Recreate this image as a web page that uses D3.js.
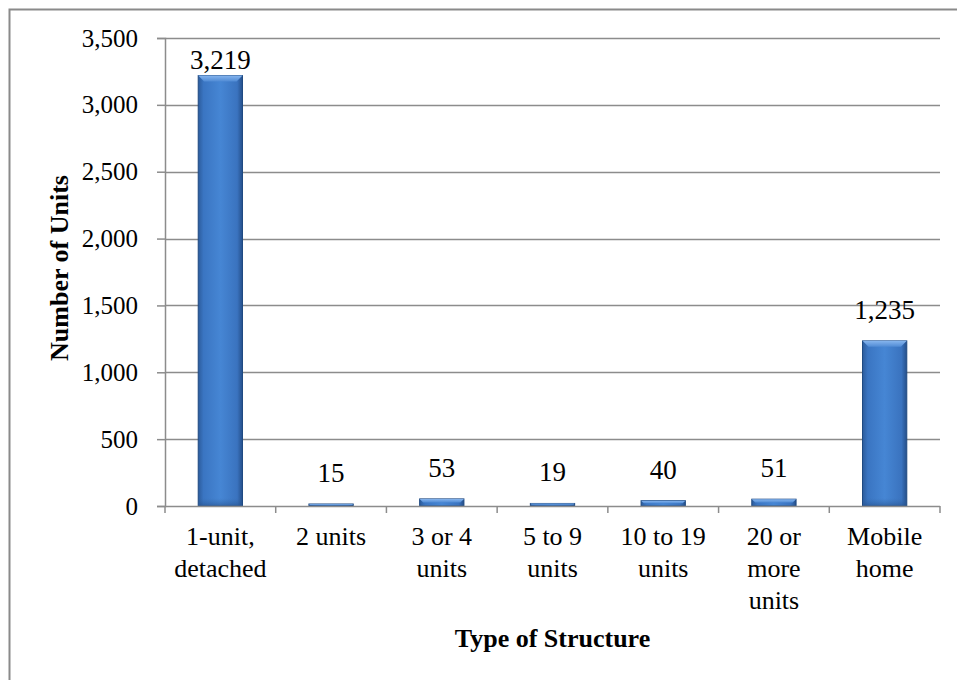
<!DOCTYPE html>
<html>
<head>
<meta charset="utf-8">
<script src="https://cdn.jsdelivr.net/npm/d3@7/dist/d3.min.js"></script>
<style>
  html, body { margin: 0; padding: 0; background: #fff; }
  svg { display: block; }
  text { font-family: "Liberation Serif", "Times New Roman", serif; fill: #000; }
</style>
</head>
<body>
<svg id="chart" width="957" height="680"></svg>
<script>
const categories = [["1-unit,", "detached"], ["2 units"], ["3 or 4", "units"], ["5 to 9", "units"], ["10 to 19", "units"], ["20 or", "more", "units"], ["Mobile", "home"]];
const values = [3219, 15, 53, 19, 40, 51, 1235];
const yTicks = [0, 500, 1000, 1500, 2000, 2500, 3000, 3500];
const yTitle = "Number of Units";
const xTitle = "Type of Structure";

const svg = d3.select("#chart");
const pLeft = 165, pRight = 940, pTop = 38, pBottom = 506;

// outer frame (extends past the right and bottom edge)
svg.append("rect").attr("x", 9.5).attr("y", 9.5).attr("width", 1000).attr("height", 1000)
  .attr("fill", "none").attr("stroke", "#8a8a8a").attr("stroke-width", 2);

const idx = d3.range(values.length);
const x = d3.scaleBand().domain(idx).range([pLeft, pRight]).paddingInner(0.6).paddingOuter(0.3);
const xc = d3.scaleBand().domain(idx).range([pLeft, pRight]);
const y = d3.scaleLinear().domain([0, 3500]).range([pBottom, pTop]);

const fmt = d3.format(",");

// defs: gradients
const defs = svg.append("defs");
const g1 = defs.append("linearGradient").attr("id", "barGrad").attr("x1", 0).attr("x2", 1).attr("y1", 0).attr("y2", 0);
g1.append("stop").attr("offset", "0%").attr("stop-color", "#2c5c9c");
g1.append("stop").attr("offset", "12%").attr("stop-color", "#3a75c2");
g1.append("stop").attr("offset", "50%").attr("stop-color", "#4686d4");
g1.append("stop").attr("offset", "88%").attr("stop-color", "#3a73bf");
g1.append("stop").attr("offset", "100%").attr("stop-color", "#254f8a");
const g2 = defs.append("linearGradient").attr("id", "topGrad").attr("x1", 0).attr("x2", 0).attr("y1", 0).attr("y2", 1);
g2.append("stop").attr("offset", "0%").attr("stop-color", "#86b5ee");
g2.append("stop").attr("offset", "100%").attr("stop-color", "#4f8ad4");
const g3 = defs.append("linearGradient").attr("id", "botGrad").attr("x1", 0).attr("x2", 0).attr("y1", 0).attr("y2", 1);
g3.append("stop").attr("offset", "0%").attr("stop-color", "#3468a8").attr("stop-opacity", 0);
g3.append("stop").attr("offset", "100%").attr("stop-color", "#24508c").attr("stop-opacity", 0.6);

// gridlines
svg.append("g").selectAll("line").data(yTicks.filter(d => d > 0)).join("line")
  .attr("x1", pLeft).attr("x2", pRight)
  .attr("y1", d => Math.round(y(d)) + 0.5).attr("y2", d => Math.round(y(d)) + 0.5)
  .attr("stroke", "#8c8c8c").attr("stroke-width", 1.5);

// y axis
const yAxis = d3.axisLeft(y).tickValues(yTicks).tickSize(8).tickPadding(19).tickFormat(fmt);
const gy = svg.append("g").attr("transform", `translate(${pLeft},0)`).call(yAxis);
gy.select(".domain").attr("stroke", "#8c8c8c").attr("stroke-width", 1.5);
gy.selectAll(".tick line").attr("stroke", "#8c8c8c").attr("stroke-width", 1.5);
gy.selectAll(".tick text").style("font-family", "Liberation Serif").style("font-size", "25px").attr("fill", "#000");

// bars
const bars = svg.append("g");
idx.forEach(i => {
  const bx = x(i), bw = x.bandwidth(), by = y(values[i]), bh = pBottom - y(values[i]);
  const bev = Math.min(6, bh / 2);
  bars.append("rect").attr("x", bx).attr("y", by).attr("width", bw).attr("height", bh)
    .attr("fill", "url(#barGrad)").attr("stroke", "#1f4a82").attr("stroke-width", 1);
  bars.append("path")
    .attr("d", `M${bx},${by} L${bx + bw},${by} L${bx + bw - bev},${by + bev} L${bx + bev},${by + bev} Z`)
    .attr("fill", "url(#topGrad)");
  if (bh > 12) {
    bars.append("rect").attr("x", bx + 1).attr("y", pBottom - 8).attr("width", bw - 2).attr("height", 8)
      .attr("fill", "url(#botGrad)");
  }
});

// x axis
const gx = svg.append("g");
gx.append("line").attr("x1", pLeft).attr("x2", pRight).attr("y1", pBottom + 0.5).attr("y2", pBottom + 0.5)
  .attr("stroke", "#8c8c8c").attr("stroke-width", 1.5);
const bounds = idx.map(i => xc(i)).concat([pRight]);
gx.selectAll("line.t").data(bounds).join("line").attr("class", "t")
  .attr("x1", d => d).attr("x2", d => d).attr("y1", pBottom).attr("y2", pBottom + 7)
  .attr("stroke", "#8c8c8c").attr("stroke-width", 1.5);

// category labels
idx.forEach(i => {
  const cx = xc(i) + xc.bandwidth() / 2;
  const t = gx.append("text").attr("text-anchor", "middle").attr("x", cx).attr("y", 545).style("font-size", "26px");
  categories[i].forEach((line, k) => {
    t.append("tspan").attr("x", cx).attr("y", 545 + k * 32).text(line);
  });
});

// data labels
svg.append("g").selectAll("text").data(idx).join("text")
  .attr("text-anchor", "middle")
  .attr("x", i => x(i) + x.bandwidth() / 2)
  .attr("y", i => y(values[i]) - (values[i] > 2000 ? 7 : 22))
  .style("font-size", "27px")
  .text(i => fmt(values[i]));

// axis titles
svg.append("text").attr("text-anchor", "middle").attr("x", (pLeft + pRight) / 2).attr("y", 647)
  .style("font-size", "26px").style("font-weight", "bold").text(xTitle);
svg.append("text").attr("text-anchor", "middle")
  .attr("transform", `translate(68,268) rotate(-90)`)
  .style("font-size", "26px").style("font-weight", "bold").text(yTitle);
</script>
</body>
</html>
